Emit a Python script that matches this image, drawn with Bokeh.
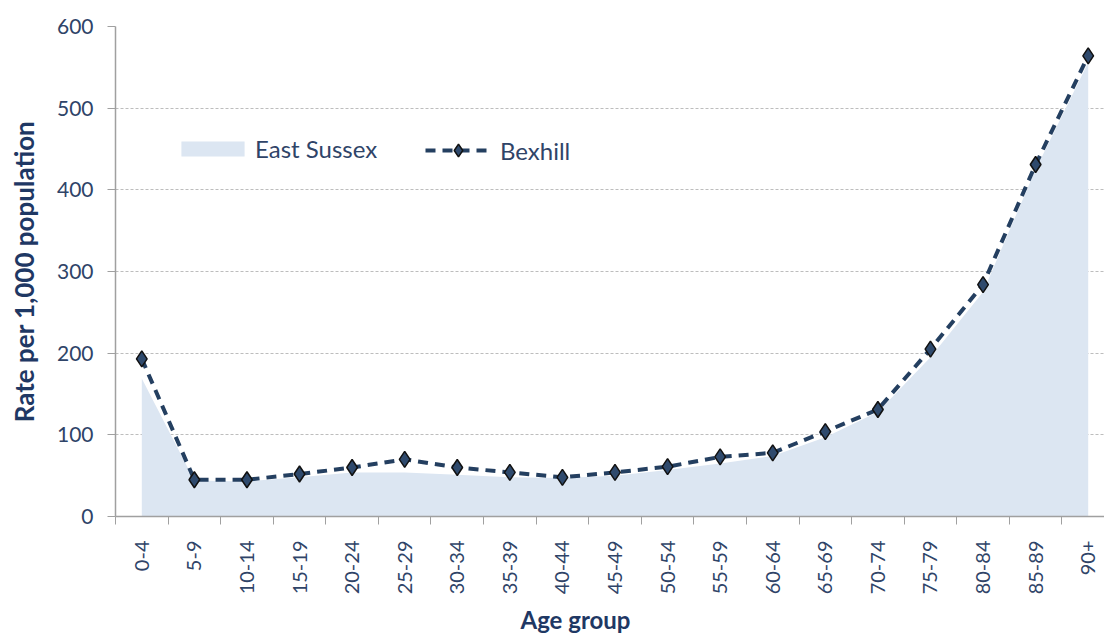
import math
from bokeh.plotting import figure
from bokeh.models import FixedTicker, Legend, LegendItem, Title, ColumnDataSource
from bokeh.embed import file_html
from bokeh.resources import INLINE

age_groups = ["0-4", "5-9", "10-14", "15-19", "20-24", "25-29", "30-34", "35-39",
              "40-44", "45-49", "50-54", "55-59", "60-64", "65-69", "70-74", "75-79",
              "80-84", "85-89", "90+"]
bexhill = [193, 45, 45, 52, 60, 70, 60, 54, 48, 54, 61, 73, 78, 104, 131, 205, 284, 431, 564]
east_sussex = [169, 44, 43, 48, 54, 54, 51, 48, 47, 50, 57, 65, 74, 97, 128, 195, 275, 425, 556]
y_ticks = [0, 100, 200, 300, 400, 500, 600]

idx = list(range(len(age_groups)))
src = ColumnDataSource(dict(x=idx, bex=bexhill, es=east_sussex, zero=[0] * len(idx)))

FONT = "Lato"
TICK_COLOR = "#2f4468"
TITLE_COLOR = "#1f3864"

p = figure(width=1104, height=642, output_backend="svg", toolbar_location=None,
           x_range=(-0.5, 18.31), y_range=(0, 600),
           min_border_left=115, min_border_right=0, min_border_top=26, min_border_bottom=125)
p.outline_line_color = None
p.background_fill_color = "white"

area = p.varea(x="x", y1="zero", y2="es", source=src, fill_color="#dce6f2")
line = p.line(x="x", y="bex", source=src, line_color="#243f60", line_width=4, line_dash="10 7")
pts = p.scatter(x="x", y="bex", source=src, marker="diamond", size=16,
                fill_color="#2f4a6d", line_color="#111111", line_width=1.5)

# x axis
p.xaxis.ticker = FixedTicker(ticks=idx, minor_ticks=[i - 0.5 for i in range(len(idx) + 1)])
p.xaxis.major_label_overrides = {i: a for i, a in enumerate(age_groups)}
p.xaxis.major_label_orientation = math.pi / 2
p.xaxis.major_tick_line_color = None
p.xaxis.minor_tick_out = 8
p.xaxis.minor_tick_in = 0
p.xaxis.minor_tick_line_color = "#a0a0a0"
p.xaxis.axis_line_color = "#a0a0a0"
p.xaxis.axis_line_width = 1.5
p.xaxis.major_label_text_font = FONT
p.xaxis.major_label_text_font_size = "20px"
p.xaxis.major_label_text_color = TICK_COLOR
p.xaxis.major_label_standoff = 16

# y axis
p.yaxis.ticker = FixedTicker(ticks=y_ticks)
p.yaxis.minor_tick_line_color = None
p.yaxis.major_tick_out = 8
p.yaxis.major_tick_in = 0
p.yaxis.major_tick_line_color = "#a0a0a0"
p.yaxis.axis_line_color = "#a0a0a0"
p.yaxis.axis_line_width = 1.5
p.yaxis.major_label_text_font = FONT
p.yaxis.major_label_text_font_size = "21px"
p.yaxis.major_label_text_color = TICK_COLOR
p.yaxis.major_label_standoff = 14
p.yaxis.axis_label = "Rate per 1,000 population"
p.yaxis.axis_label_text_font = FONT
p.yaxis.axis_label_text_font_size = "26px"
p.yaxis.axis_label_text_font_style = "bold"
p.yaxis.axis_label_text_color = TITLE_COLOR
p.yaxis.axis_label_standoff = 14

p.xgrid.grid_line_color = None
p.ygrid.grid_line_color = "#bdbdbd"
p.ygrid.grid_line_dash = "3 2"
p.ygrid.grid_line_width = 1

xtitle = Title(text="Age group", align="left", offset=405, standoff=14,
               text_line_height=0.5, vertical_align="top",
               text_font=FONT, text_font_size="24px", text_font_style="bold",
               text_color=TITLE_COLOR)
p.add_layout(xtitle, "below")

common = dict(orientation="horizontal", padding=0, margin=0, border_line_color=None,
              background_fill_alpha=0, label_text_font=FONT, label_text_font_size="24px",
              label_text_color=TICK_COLOR)
legend1 = Legend(items=[LegendItem(label="East Sussex", renderers=[area])],
                 location=(58, 353), glyph_width=79, glyph_height=19, label_standoff=3, **common)
legend2 = Legend(items=[LegendItem(label="Bexhill", renderers=[line, pts])],
                 location=(310, 350), glyph_width=66, glyph_height=32, label_standoff=9, **common)
p.add_layout(legend1)
p.add_layout(legend2)

open("out.html", "w").write(file_html(p, INLINE))
